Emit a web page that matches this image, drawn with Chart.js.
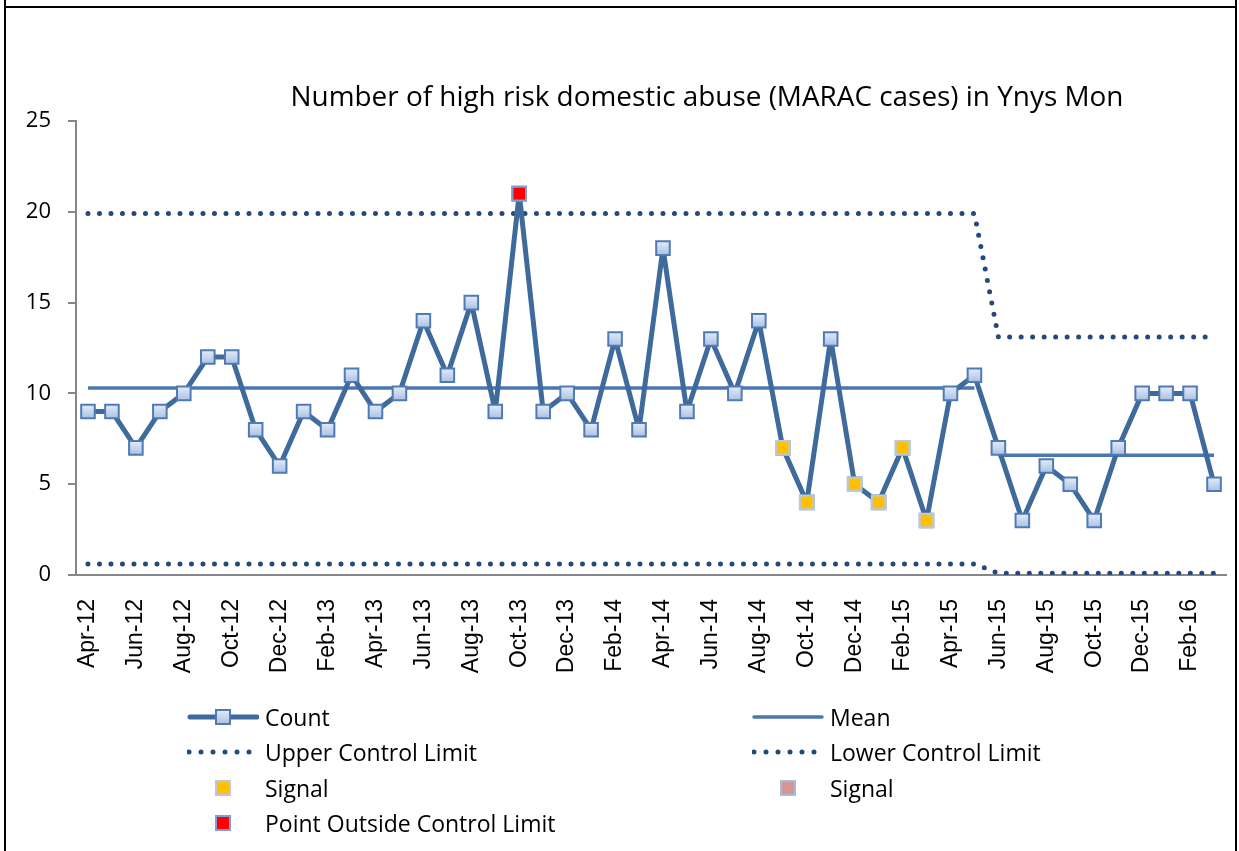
<!DOCTYPE html>
<html lang="en">
<head>
  <meta charset="UTF-8">
  <title>Number of high risk domestic abuse (MARAC cases) in Ynys Mon</title>
  <style>
    body { margin: 0; background: #fff; font-family: 'Open Sans', sans-serif; color: #000; }
    .page { position: relative; width: 1239px; height: 851px; overflow: hidden; background: #fff; }
    /* outer frame */
    .frame-l { position: absolute; left: 4px; top: 0; bottom: 0; border-left: 2px solid #000; }
    .frame-r { position: absolute; left: 1235px; top: 0; bottom: 0; border-left: 2px solid #000; }
    .frame-t { position: absolute; left: 4px; top: 6px; width: 1233px; border-top: 2px solid #000; }
    #chart { position: absolute; left: 0; top: 0; }
    .title { position: absolute; left: 707px; top: 76px; transform: translateX(-50%); font-size: 27.9px; white-space: nowrap; }
    /* legend */
    .legend { position: absolute; left: 187px; top: 699px; display: grid; grid-template-columns: 565px auto; grid-auto-rows: 35.5px; }
    .item { display: flex; align-items: center; font-size: 23px; white-space: nowrap; }
    .item svg { width: 72px; height: 22px; margin-right: 6px; flex: none; }
  </style>
</head>
<body>
<div class="page">
  <canvas id="chart" width="1239" height="851"></canvas>
  <div class="frame-l"></div><div class="frame-r"></div><div class="frame-t"></div>
  <div class="title">Number of high risk domestic abuse (MARAC cases) in Ynys Mon</div>

  <div class="legend">
    <div class="item">
      <svg viewBox="0 0 72 22"><defs><linearGradient id="mk" x1="0" y1="0" x2="0" y2="1"><stop offset="0" stop-color="#E4ECF8"/><stop offset="1" stop-color="#A9C1E4"/></linearGradient></defs>
        <line x1="3" y1="11" x2="70" y2="11" stroke="#3E6A9C" stroke-width="5" stroke-linecap="round"/>
        <rect x="29" y="4" width="14" height="14" fill="url(#mk)" stroke="#4F7AB4" stroke-width="2"/></svg>Count</div>
    <div class="item">
      <svg viewBox="0 0 72 22"><line x1="2" y1="11" x2="70" y2="11" stroke="#4A77B0" stroke-width="3.5" stroke-linecap="round"/></svg>Mean</div>
    <div class="item">
      <svg viewBox="0 0 72 22"><line x1="2" y1="11" x2="64" y2="11" stroke="#24497D" stroke-width="5" stroke-linecap="round" stroke-dasharray="0 12"/></svg>Upper Control Limit</div>
    <div class="item">
      <svg viewBox="0 0 72 22"><line x1="2" y1="11" x2="64" y2="11" stroke="#24497D" stroke-width="5" stroke-linecap="round" stroke-dasharray="0 12"/></svg>Lower Control Limit</div>
    <div class="item">
      <svg viewBox="0 0 72 22"><rect x="29" y="4" width="14" height="14" fill="#FFC000" stroke="#BCC8DD" stroke-width="2"/></svg>Signal</div>
    <div class="item">
      <svg viewBox="0 0 72 22"><rect x="29" y="4" width="14" height="14" fill="#D99594" stroke="#A9BCDB" stroke-width="2"/></svg>Signal</div>
    <div class="item">
      <svg viewBox="0 0 72 22"><rect x="29" y="4" width="14" height="14" fill="#FF0000" stroke="#7F9FD0" stroke-width="2"/></svg>Point Outside Control Limit</div>
  </div>
</div>

<script src="https://cdn.jsdelivr.net/npm/chart.js"></script>
<script>
  // months Apr-12 .. Mar-16
  const months = ['Apr-12','May-12','Jun-12','Jul-12','Aug-12','Sep-12','Oct-12','Nov-12','Dec-12','Jan-13','Feb-13','Mar-13',
                  'Apr-13','May-13','Jun-13','Jul-13','Aug-13','Sep-13','Oct-13','Nov-13','Dec-13','Jan-14','Feb-14','Mar-14',
                  'Apr-14','May-14','Jun-14','Jul-14','Aug-14','Sep-14','Oct-14','Nov-14','Dec-14','Jan-15','Feb-15','Mar-15',
                  'Apr-15','May-15','Jun-15','Jul-15','Aug-15','Sep-15','Oct-15','Nov-15','Dec-15','Jan-16','Feb-16','Mar-16'];

  const count = [9, 9, 7, 9, 10, 12, 12, 8, 6, 9, 8, 11,
                 9, 10, 14, 11, 15, 9, 21, 9, 10, 8, 13, 8,
                 18, 9, 13, 10, 14, 7, 4, 13, 5, 4, 7, 3,
                 10, 11, 7, 3, 6, 5, 3, 7, 10, 10, 10, 5];

  const meanFirst = [10.3, 10.3, 10.3, 10.3, 10.3, 10.3, 10.3, 10.3, 10.3, 10.3, 10.3, 10.3,
                     10.3, 10.3, 10.3, 10.3, 10.3, 10.3, 10.3, 10.3, 10.3, 10.3, 10.3, 10.3,
                     10.3, 10.3, 10.3, 10.3, 10.3, 10.3, 10.3, 10.3, 10.3, 10.3, 10.3, 10.3,
                     10.3, 10.3, null, null, null, null, null, null, null, null, null, null];
  const meanSecond = [null, null, null, null, null, null, null, null, null, null, null, null,
                      null, null, null, null, null, null, null, null, null, null, null, null,
                      null, null, null, null, null, null, null, null, null, null, null, null,
                      null, null, 6.6, 6.6, 6.6, 6.6, 6.6, 6.6, 6.6, 6.6, 6.6, 6.6];

  const ucl = [19.9, 19.9, 19.9, 19.9, 19.9, 19.9, 19.9, 19.9, 19.9, 19.9, 19.9, 19.9,
               19.9, 19.9, 19.9, 19.9, 19.9, 19.9, 19.9, 19.9, 19.9, 19.9, 19.9, 19.9,
               19.9, 19.9, 19.9, 19.9, 19.9, 19.9, 19.9, 19.9, 19.9, 19.9, 19.9, 19.9,
               19.9, 19.9, 13.1, 13.1, 13.1, 13.1, 13.1, 13.1, 13.1, 13.1, 13.1, 13.1];
  const lcl = [0.6, 0.6, 0.6, 0.6, 0.6, 0.6, 0.6, 0.6, 0.6, 0.6, 0.6, 0.6,
               0.6, 0.6, 0.6, 0.6, 0.6, 0.6, 0.6, 0.6, 0.6, 0.6, 0.6, 0.6,
               0.6, 0.6, 0.6, 0.6, 0.6, 0.6, 0.6, 0.6, 0.6, 0.6, 0.6, 0.6,
               0.6, 0.6, 0.1, 0.1, 0.1, 0.1, 0.1, 0.1, 0.1, 0.1, 0.1, 0.1];

  // signal points (run below the mean) and the point outside the limits
  const signalLow = [null, null, null, null, null, null, null, null, null, null, null, null,
                     null, null, null, null, null, null, null, null, null, null, null, null,
                     null, null, null, null, null, 7, 4, null, 5, 4, 7, 3,
                     null, null, null, null, null, null, null, null, null, null, null, null];
  const signalHigh = [];
  const outside = [null, null, null, null, null, null, null, null, null, null, null, null,
                   null, null, null, null, null, null, 21, null, null, null, null, null,
                   null, null, null, null, null, null, null, null, null, null, null, null,
                   null, null, null, null, null, null, null, null, null, null, null, null];

  const yTicks = [0, 5, 10, 15, 20, 25];

  // light blue gradient fill for the count markers
  function markerFill(c) {
    const y = c.chart.scales.y;
    if (!y || c.raw == null) return '#C3D3EC';
    const py = y.getPixelForValue(c.raw);
    if (!isFinite(py)) return '#C3D3EC';
    const g = c.chart.ctx.createLinearGradient(0, py - 7, 0, py + 7);
    g.addColorStop(0, '#E4ECF8');
    g.addColorStop(1, '#A9C1E4');
    return g;
  }

  const dotted = { borderColor: '#24497D', borderWidth: 5, borderDash: [0, 11.5], borderCapStyle: 'round', pointRadius: 0, fill: false, tension: 0, order: 4 };
  const marker = { showLine: false, pointStyle: 'rect', pointRadius: 9.6, pointBorderWidth: 2, order: 0 };

  new Chart(document.getElementById('chart'), {
    type: 'line',
    data: {
      labels: months,
      datasets: [
        Object.assign({ label: 'Upper Control Limit', data: ucl }, dotted),
        Object.assign({ label: 'Lower Control Limit', data: lcl }, dotted),
        { label: 'Mean', data: meanFirst, borderColor: '#4A77B0', borderWidth: 3.5, pointRadius: 0, order: 3 },
        { label: 'Mean', data: meanSecond, borderColor: '#4A77B0', borderWidth: 3.5, pointRadius: 0, order: 3 },
        { label: 'Count', data: count, borderColor: '#3E6A9C', borderWidth: 5, borderJoinStyle: 'round',
          pointStyle: 'rect', pointRadius: 9.6, pointBorderWidth: 2, pointBorderColor: '#4F7AB4',
          pointBackgroundColor: markerFill, order: 1 },
        Object.assign({ label: 'Signal', data: signalLow, pointBackgroundColor: '#FFC000', pointBorderColor: '#BCC8DD' }, marker),
        Object.assign({ label: 'Signal', data: signalHigh, pointBackgroundColor: '#D99594', pointBorderColor: '#A9BCDB' }, marker),
        Object.assign({ label: 'Point Outside Control Limit', data: outside, pointBackgroundColor: '#FF0000', pointBorderColor: '#7F9FD0' }, marker)
      ]
    },
    options: {
      responsive: false,
      animation: false,
      layout: { padding: { left: 10, right: 13, top: 121, bottom: 0 } },
      plugins: { legend: { display: false }, tooltip: { enabled: false }, title: { display: false } },
      scales: {
        x: {
          type: 'category',
          offset: true,
          afterFit: s => { s.height = 276; s.paddingLeft = 0; s.paddingRight = 0; },
          grid: { display: false, drawTicks: false },
          border: { display: true, color: '#868686', width: 2 },
          ticks: {
            autoSkip: false, minRotation: 90, maxRotation: 90, padding: 24, color: '#000',
            font: { family: "'Liberation Sans', Arial, sans-serif", size: 23 },
            callback: function(v, i) { return i % 2 === 0 ? this.getLabelForValue(v) : ''; }
          }
        },
        y: {
          min: 0, max: 25,
          afterFit: s => { s.width = 66; },
          afterBuildTicks: s => { s.ticks = yTicks.map(v => ({ value: v })); },
          grid: { drawOnChartArea: false, drawTicks: true, tickLength: 8, color: '#868686', lineWidth: 2 },
          border: { display: true, color: '#868686', width: 2 },
          ticks: { padding: 17, color: '#000', font: { family: "'Open Sans', sans-serif", size: 22 } }
        }
      }
    }
  });
</script>
</body>
</html>
